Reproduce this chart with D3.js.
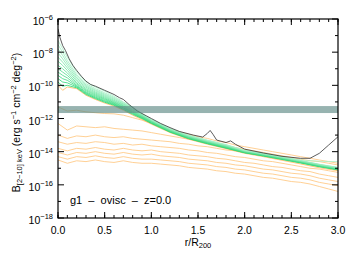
<!DOCTYPE html>
<html>
<head>
<meta charset="utf-8">
<script src="https://cdn.jsdelivr.net/npm/d3@7"></script>
<style>
  body { margin: 0; background: #fff; }
  text { font-family: "Liberation Sans", Arial, sans-serif; fill: #000; }
</style>
</head>
<body>
<div id="chart"></div>
<script>
// ---- data (values are log10 of brightness) ----
const yTickExp = [-6, -8, -10, -12, -14, -16, -18];
const xTickVals = [0.0, 0.5, 1.0, 1.5, 2.0, 2.5, 3.0];

const bandLogB = [-11.25, -11.67];

const blackR = [0, 0.02, 0.05, 0.08, 0.12, 0.16, 0.2, 0.25, 0.3, 0.35, 0.4, 0.5, 0.6, 0.66, 0.7, 0.77, 0.85, 0.95, 1.0, 1.1, 1.2, 1.3, 1.45, 1.55, 1.6, 1.63, 1.66, 1.7, 1.8, 1.85, 1.9, 2.0, 2.2, 2.4, 2.6, 2.7, 2.8, 2.9, 3.0];
const blackLogB = [-6.6, -7.1, -7.6, -7.9, -8.4, -8.8, -9.1, -9.45, -9.75, -9.95, -10.05, -10.3, -10.55, -10.75, -10.85, -11.2, -11.55, -11.85, -12.0, -12.3, -12.55, -12.78, -13.0, -13.12, -12.9, -12.72, -12.95, -13.3, -13.45, -13.35, -13.55, -13.85, -14.08, -14.28, -14.4, -14.4, -14.1, -13.6, -13.1];

const greenR = [0, 0.05, 0.1, 0.2, 0.3, 0.4, 0.5, 0.6, 0.7, 0.8, 0.9, 1.0, 1.2, 1.4, 1.6, 1.8, 2.0, 2.2, 2.4, 2.6, 2.8, 3.0];
const greenLines = [
  [-7.3, -7.8, -8.3, -9.2, -9.8, -10.1, -10.35, -10.65, -11.0, -11.3, -11.7, -12.05, -12.6, -13.0, -13.3, -13.57, -13.92, -14.1, -14.3, -14.5, -14.58, -14.6],
  [-7.55, -8.0, -8.5, -9.35, -9.9, -10.2, -10.45, -10.72, -11.04, -11.34, -11.73, -12.07, -12.62, -13.02, -13.32, -13.59, -13.93, -14.12, -14.32, -14.53, -14.76, -14.95],
  [-7.8, -8.2, -8.65, -9.45, -9.98, -10.27, -10.52, -10.78, -11.08, -11.38, -11.75, -12.09, -12.64, -13.04, -13.34, -13.61, -13.94, -14.13, -14.33, -14.54, -14.77, -14.96],
  [-8.05, -8.4, -8.8, -9.55, -10.05, -10.33, -10.58, -10.84, -11.12, -11.42, -11.78, -12.11, -12.66, -13.06, -13.36, -13.63, -13.95, -14.14, -14.35, -14.56, -14.79, -14.98],
  [-8.3, -8.6, -8.95, -9.65, -10.12, -10.4, -10.64, -10.9, -11.16, -11.46, -11.8, -12.13, -12.68, -13.08, -13.38, -13.65, -13.97, -14.16, -14.36, -14.57, -14.8, -14.99],
  [-8.55, -8.8, -9.1, -9.75, -10.2, -10.46, -10.7, -10.95, -11.2, -11.5, -11.83, -12.15, -12.7, -13.1, -13.4, -13.67, -13.98, -14.17, -14.38, -14.59, -14.82, -15.01],
  [-8.8, -9.0, -9.25, -9.85, -10.27, -10.52, -10.76, -11.0, -11.24, -11.54, -11.86, -12.17, -12.72, -13.12, -13.42, -13.69, -14.0, -14.19, -14.39, -14.6, -14.83, -15.02],
  [-9.0, -9.2, -9.4, -9.92, -10.33, -10.58, -10.81, -11.04, -11.28, -11.58, -11.89, -12.19, -12.74, -13.14, -13.44, -13.71, -14.01, -14.2, -14.41, -14.62, -14.85, -15.04],
  [-9.2, -9.4, -9.55, -10.0, -10.4, -10.64, -10.86, -11.08, -11.32, -11.62, -11.92, -12.21, -12.76, -13.16, -13.46, -13.73, -14.03, -14.22, -14.42, -14.63, -14.86, -15.05],
  [-9.4, -9.6, -9.7, -10.05, -10.45, -10.7, -10.92, -11.12, -11.36, -11.66, -11.94, -12.24, -12.78, -13.18, -13.48, -13.75, -14.04, -14.23, -14.44, -14.65, -14.88, -15.07],
  [-9.6, -9.8, -9.85, -10.1, -10.5, -10.75, -10.97, -11.16, -11.4, -11.7, -11.97, -12.27, -12.8, -13.2, -13.5, -13.77, -14.06, -14.25, -14.45, -14.66, -14.89, -15.08],
  [-9.8, -10.05, -10.0, -10.15, -10.55, -10.8, -11.02, -11.2, -11.45, -11.75, -12.0, -12.3, -12.82, -13.22, -13.52, -13.79, -14.07, -14.26, -14.47, -14.68, -14.91, -15.1]
];

// top orange line follows the lower edge of the green bundle
const orangeTopLogB = [-10.0, -10.3, -10.1, -10.2, -10.6, -10.85, -11.07, -11.25, -11.5, -11.8, -12.05, -12.34, -12.85, -13.25, -13.55, -13.82, -14.1, -14.3, -14.52, -14.74, -14.97, -15.15];

const orangeR = [0, 0.1, 0.2, 0.3, 0.4, 0.5, 0.6, 0.7, 0.8, 0.9, 1.0, 1.1, 1.2, 1.3, 1.4, 1.5, 1.6, 1.7, 1.8, 1.9, 2.0, 2.1, 2.2, 2.3, 2.4, 2.5, 2.6, 2.7, 2.8, 2.9, 3.0];
const orangeLines = [
  [-11.3, -11.55, -11.5, -11.6, -11.65, -11.7, -11.72, -11.8, -11.95, -12.1, -12.3, -12.5, -12.65, -12.8, -12.95, -13.1, -13.2, -13.35, -13.45, -13.6, -13.7, -13.8, -13.9, -14.0, -14.1, -14.2, -14.3, -14.4, -14.5, -14.6, -14.7],
  [-12.3, -12.7, -12.45, -12.5, -12.55, -12.5, -12.6, -12.65, -12.7, -12.75, -12.85, -12.95, -13.05, -13.15, -13.25, -13.35, -13.45, -13.55, -13.65, -13.75, -13.85, -13.95, -14.05, -14.15, -14.25, -14.35, -14.45, -14.55, -14.6, -14.7, -14.8],
  [-13.0, -13.2, -13.05, -13.1, -13.0, -13.1, -13.15, -13.1, -13.2, -13.25, -13.3, -13.35, -13.4, -13.5, -13.55, -13.65, -13.7, -13.8, -13.9, -13.95, -14.05, -14.15, -14.25, -14.35, -14.45, -14.5, -14.6, -14.7, -14.8, -14.9, -15.0],
  [-13.4, -13.55, -13.45, -13.5, -13.4, -13.45, -13.55, -13.5, -13.6, -13.55, -13.65, -13.7, -13.75, -13.8, -13.9, -13.95, -14.05, -14.1, -14.2, -14.3, -14.35, -14.45, -14.55, -14.6, -14.7, -14.8, -14.9, -15.0, -15.05, -15.15, -15.25],
  [-13.8, -13.95, -13.8, -13.85, -13.75, -13.85, -13.9, -13.8, -13.9, -13.95, -13.9, -14.0, -14.05, -14.1, -14.2, -14.25, -14.3, -14.4, -14.45, -14.55, -14.65, -14.7, -14.8, -14.9, -14.95, -15.05, -15.15, -15.2, -15.35, -15.45, -15.55],
  [-14.05, -14.2, -14.05, -14.1, -14.0, -14.1, -14.15, -14.05, -14.15, -14.2, -14.15, -14.25, -14.3, -14.35, -14.45, -14.5, -14.55, -14.65, -14.7, -14.8, -14.85, -14.95, -15.05, -15.1, -15.2, -15.3, -15.35, -15.45, -15.6, -15.7, -15.8],
  [-14.3, -14.45, -14.3, -14.35, -14.25, -14.35, -14.4, -14.3, -14.4, -14.45, -14.45, -14.5, -14.55, -14.6, -14.7, -14.75, -14.8, -14.9, -14.95, -15.05, -15.1, -15.2, -15.3, -15.35, -15.45, -15.55, -15.6, -15.7, -15.85, -15.95, -16.05],
  [-14.5, -14.7, -14.55, -14.6, -14.5, -14.6, -14.65, -14.55, -14.65, -14.7, -14.7, -14.75, -14.8, -14.85, -14.95, -15.0, -15.05, -15.15, -15.2, -15.3, -15.35, -15.45, -15.55, -15.6, -15.7, -15.8, -15.85, -15.95, -16.1, -16.25, -16.4]
];

// ---- layout ----
const W = 357, H = 255;
const margin = { top: 19, right: 19, bottom: 37, left: 58 };
const width = W - margin.left - margin.right;
const height = H - margin.top - margin.bottom;

const svg = d3.select("#chart").append("svg")
  .attr("width", W)
  .attr("height", H);

const g = svg.append("g")
  .attr("transform", "translate(" + margin.left + "," + margin.top + ")");

const x = d3.scaleLinear().domain([0, 3]).range([0, width]);
const y = d3.scaleLog().domain([1e-18, 1e-6]).range([height, 0]);

const line = d3.line()
  .x(d => x(d[0]))
  .y(d => y(Math.pow(10, d[1])));

svg.append("clipPath").attr("id", "plotclip")
  .append("rect").attr("width", width).attr("height", height);

const plot = g.append("g").attr("clip-path", "url(#plotclip)");

// orange lines
orangeLines.forEach(vals => {
  plot.append("path")
    .datum(orangeR.map((r, i) => [r, vals[i]]))
    .attr("fill", "none")
    .attr("stroke", "#ffc47a")
    .attr("stroke-width", 0.8)
    .attr("d", line);
});
plot.append("path")
  .datum(greenR.map((r, i) => [r, orangeTopLogB[i]]))
  .attr("fill", "none")
  .attr("stroke", "#ffb95c")
  .attr("stroke-width", 0.8)
  .attr("d", line);

// green lines, light at top to saturated at bottom
const greenColor = d3.scaleLinear().domain([0, greenLines.length - 1])
  .range(["#a8f0c8", "#1fd46c"]);
greenLines.slice().reverse().forEach((vals, j) => {
  const i = greenLines.length - 1 - j;
  plot.append("path")
    .datum(greenR.map((r, k) => [r, vals[k]]))
    .attr("fill", "none")
    .attr("stroke", greenColor(i))
    .attr("stroke-width", 0.8)
    .attr("d", line);
});

// black envelope
plot.append("path")
  .datum(blackR.map((r, i) => [r, blackLogB[i]]))
  .attr("fill", "none")
  .attr("stroke", "#333")
  .attr("stroke-width", 0.8)
  .attr("d", line);

// grey band
plot.append("rect")
  .attr("x", 0)
  .attr("width", width)
  .attr("y", y(Math.pow(10, bandLogB[0])))
  .attr("height", y(Math.pow(10, bandLogB[1])) - y(Math.pow(10, bandLogB[0])))
  .attr("fill", "#5f8a86")
  .attr("opacity", 0.65);

// ---- axes (ticks inside, on all four sides) ----
const yMajor = yTickExp.map(e => Math.pow(10, e));
const yMinor = d3.range(-17, -6, 2).map(e => Math.pow(10, e));
const xMinor = d3.range(0, 31).map(i => i / 10);

function tickLines(sel, vals, scale, len, orient) {
  vals.forEach(v => {
    const p = scale(v);
    if (orient === "left") sel.append("line").attr("x1", 0).attr("x2", len).attr("y1", p).attr("y2", p);
    if (orient === "right") sel.append("line").attr("x1", width).attr("x2", width - len).attr("y1", p).attr("y2", p);
    if (orient === "bottom") sel.append("line").attr("x1", p).attr("x2", p).attr("y1", height).attr("y2", height - len);
    if (orient === "top") sel.append("line").attr("x1", p).attr("x2", p).attr("y1", 0).attr("y2", len);
  });
}

const axes = g.append("g").attr("stroke", "#000").attr("stroke-width", 1);
tickLines(axes, yMajor, y, 6, "left");
tickLines(axes, yMinor, y, 3, "left");
tickLines(axes, yMajor, y, 6, "right");
tickLines(axes, yMinor, y, 3, "right");
tickLines(axes, xTickVals, x, 6, "bottom");
tickLines(axes, xMinor, x, 3, "bottom");
tickLines(axes, xTickVals, x, 6, "top");
tickLines(axes, xMinor, x, 3, "top");

g.append("rect")
  .attr("width", width)
  .attr("height", height)
  .attr("fill", "none")
  .attr("stroke", "#000")
  .attr("stroke-width", 1.2);

// y tick labels 10^n
yTickExp.forEach(e => {
  const t = g.append("text")
    .attr("x", -5)
    .attr("y", y(Math.pow(10, e)) + 6)
    .attr("text-anchor", "end")
    .attr("font-size", 10.5);
  t.append("tspan").text("10");
  t.append("tspan").attr("dy", -5).attr("font-size", 7.5).text("\u2212" + Math.abs(e));
});

// x tick labels
xTickVals.forEach(v => {
  g.append("text")
    .attr("x", x(v))
    .attr("y", height + 16)
    .attr("text-anchor", "middle")
    .attr("font-size", 10.5)
    .text(d3.format(".1f")(v));
});

// x axis title
const xt = g.append("text")
  .attr("x", width / 2)
  .attr("y", height + 28)
  .attr("text-anchor", "middle")
  .attr("font-size", 10.5);
xt.append("tspan").text("r/R");
xt.append("tspan").attr("dy", 2).attr("font-size", 7.5).text("200");

// y axis title
const yt = svg.append("text")
  .attr("transform", "translate(20," + (margin.top + height / 2 + 4) + ") rotate(-90)")
  .attr("text-anchor", "middle")
  .attr("font-size", 10.5);
yt.append("tspan").text("B");
yt.append("tspan").attr("dy", 2).attr("font-size", 7.5).text("[2\u221210] keV");
yt.append("tspan").attr("dy", -2).text(" (erg s");
yt.append("tspan").attr("dy", -4).attr("font-size", 7.5).text("\u22121");
yt.append("tspan").attr("dy", 4).text(" cm");
yt.append("tspan").attr("dy", -4).attr("font-size", 7.5).text("\u22122");
yt.append("tspan").attr("dy", 4).text(" deg");
yt.append("tspan").attr("dy", -4).attr("font-size", 7.5).text("\u22122");
yt.append("tspan").attr("dy", 4).text(")");

// label
g.append("text")
  .attr("x", 12)
  .attr("y", 185)
  .attr("font-size", 11)
  .attr("xml:space", "preserve")
  .text("g1  \u2013  ovisc  \u2013  z=0.0");
</script>
</body>
</html>
